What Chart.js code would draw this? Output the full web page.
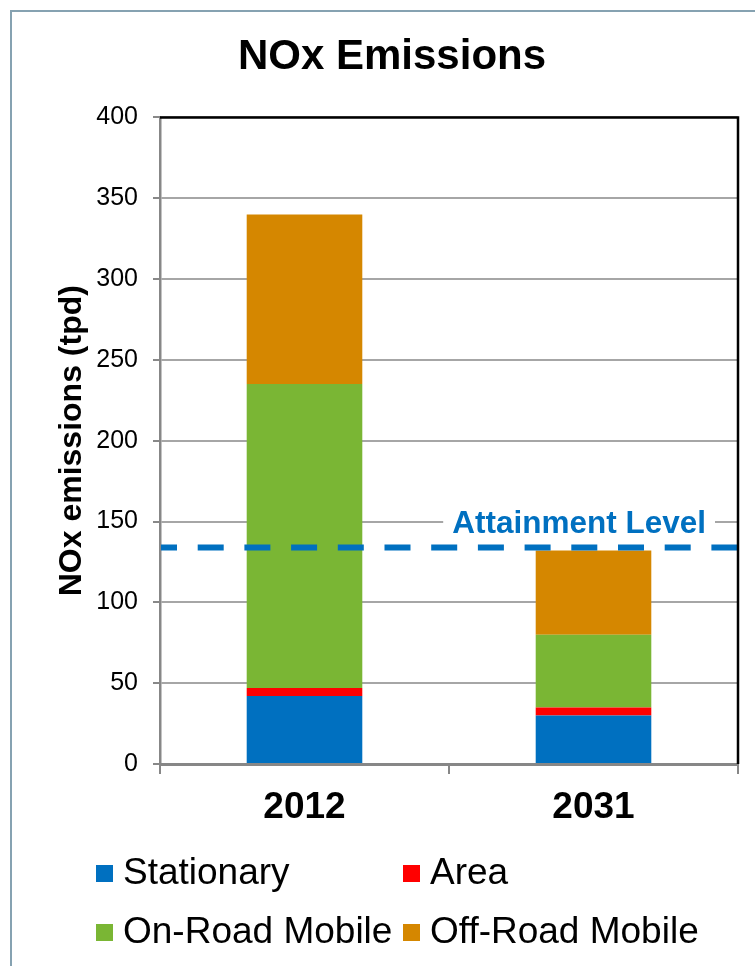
<!DOCTYPE html>
<html>
<head>
<meta charset="utf-8">
<script src="https://cdn.jsdelivr.net/npm/chart.js@4"></script>
<style>
  html, body { margin: 0; padding: 0; background: #fff; overflow: hidden; }
  #frame {
    position: absolute; left: 10px; top: 10px; width: 900px; height: 1100px;
    border: 2px solid #86a2b1;
  }
  #noxChart { position: absolute; left: 0; top: 0; }
</style>
</head>
<body>
<div id="frame"></div>
<canvas id="noxChart" width="755" height="966"></canvas>
<script>
// emissions by source, tons per day
const years = ['2012', '2031'];
const stationary = [42, 30];
const area = [5, 5];
const onRoadMobile = [188, 45];
const offRoadMobile = [105, 52];
const attainmentLevel = 134;
const yMin = 0, yMax = 400, yStep = 50;

const FONT = "'Liberation Sans', Arial, sans-serif";
const BLUE = '#0070c0';

// dashed attainment line with its label
const attainmentLine = {
  id: 'attainmentLine',
  afterDatasetsDraw(chart) {
    const { ctx, chartArea, scales: { y } } = chart;
    const py = y.getPixelForValue(attainmentLevel);
    ctx.save();
    ctx.strokeStyle = BLUE;
    ctx.lineWidth = 6;
    ctx.setLineDash([26, 20.7]);
    ctx.lineDashOffset = 10;
    ctx.beginPath();
    ctx.moveTo(chartArea.left + 1, py);
    ctx.lineTo(chartArea.right - 1, py);
    ctx.stroke();
    ctx.setLineDash([]);

    ctx.font = 'bold 31.5px ' + FONT;
    ctx.textAlign = 'right';
    ctx.textBaseline = 'alphabetic';
    const tx = 706, ty = 533;
    const w = ctx.measureText('Attainment Level').width;
    ctx.fillStyle = '#fff';
    ctx.fillRect(tx - w - 9, ty - 27, w + 18, 30);
    ctx.fillStyle = BLUE;
    ctx.fillText('Attainment Level', tx, ty);
    ctx.restore();
  }
};

// black top and right edges of the plot area
const plotEdges = {
  id: 'plotEdges',
  afterDraw(chart) {
    const { ctx, chartArea: a } = chart;
    ctx.save();
    ctx.strokeStyle = '#000';
    ctx.lineWidth = 2.5;
    ctx.beginPath();
    ctx.moveTo(a.left, a.top);
    ctx.lineTo(a.right, a.top);
    ctx.lineTo(a.right, a.bottom);
    ctx.stroke();
    ctx.restore();
  }
};

// two-column legend under the axis
const gridLegend = {
  id: 'gridLegend',
  afterDraw(chart) {
    const { ctx } = chart;
    const cols = [96, 403];
    const rows = [873, 932];
    ctx.save();
    ctx.font = '37px ' + FONT;
    ctx.textBaseline = 'middle';
    ctx.textAlign = 'left';
    chart.data.datasets.forEach((ds, i) => {
      const x = cols[i % 2];
      const y = rows[Math.floor(i / 2)];
      ctx.fillStyle = ds.backgroundColor;
      ctx.fillRect(x, y - 8, 17, 17);
      ctx.fillStyle = '#000';
      ctx.fillText(ds.label, x + 27, y + 1);
    });
    ctx.restore();
  }
};

new Chart(document.getElementById('noxChart'), {
  type: 'bar',
  data: {
    labels: years,
    datasets: [
      { label: 'Stationary', data: stationary, backgroundColor: '#0070c0' },
      { label: 'Area', data: area, backgroundColor: '#ff0000' },
      { label: 'On-Road Mobile', data: onRoadMobile, backgroundColor: '#7ab634' },
      { label: 'Off-Road Mobile', data: offRoadMobile, backgroundColor: '#d58700' }
    ]
  },
  options: {
    responsive: false,
    devicePixelRatio: 1,
    animation: false,
    layout: { padding: { left: 46, right: 17, top: 0, bottom: 136 } },
    datasets: { bar: { barPercentage: 0.4, categoryPercentage: 1 } },
    plugins: {
      legend: { display: false },
      tooltip: { enabled: false },
      title: {
        display: true,
        text: 'NOx Emissions',
        color: '#000',
        font: { family: FONT, size: 42, weight: 'bold' },
        padding: { top: 32, bottom: 35 }
      }
    },
    scales: {
      x: {
        stacked: true,
        afterFit: (s) => { s.height = 66; },
        grid: {
          display: true, drawOnChartArea: false, offset: true,
          tickLength: 10, color: '#878787', lineWidth: 2
        },
        border: { color: '#878787', width: 3 },
        ticks: {
          color: '#000', padding: 12,
          font: { family: FONT, size: 37, weight: 'bold' }
        }
      },
      y: {
        stacked: true,
        min: yMin, max: yMax,
        afterFit: (s) => { s.width = 114; },
        grid: { color: '#a6a6a6', lineWidth: 2, tickLength: 7, tickColor: '#888' },
        border: { color: '#878787', width: 2.5 },
        ticks: {
          stepSize: yStep, color: '#000', padding: 15,
          font: { family: FONT, size: 25 }
        },
        title: {
          display: true,
          text: 'NOx emissions (tpd)',
          color: '#000',
          padding: { top: 7, bottom: 0 },
          font: { family: FONT, size: 32, weight: 'bold' }
        }
      }
    }
  },
  plugins: [attainmentLine, plotEdges, gridLegend]
});
</script>
</body>
</html>
